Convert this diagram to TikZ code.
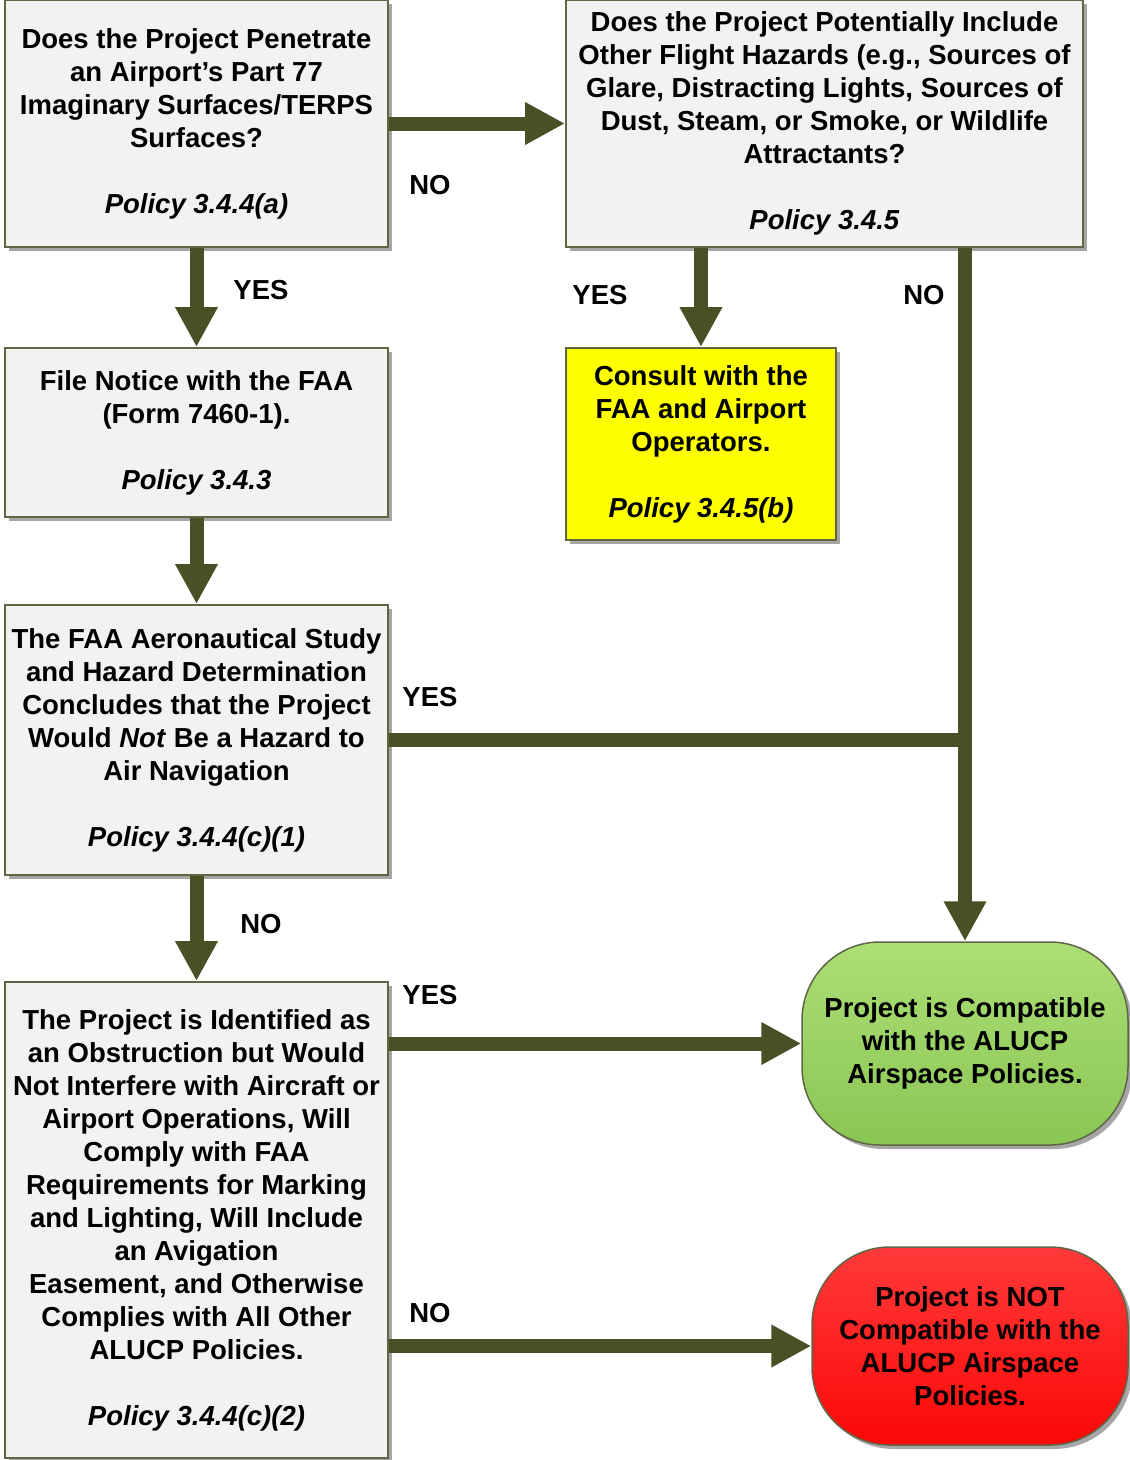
\documentclass[tikz,border=0pt]{standalone}
\usepackage{fontspec}
\setmainfont{Liberation Sans}
\usetikzlibrary{arrows.meta,shadows}
\definecolor{arrowc}{RGB}{74,80,38}
\definecolor{edgec}{RGB}{95,102,70}
\definecolor{boxfill}{RGB}{242,242,242}
\definecolor{yel}{RGB}{255,255,0}
\definecolor{greentop}{RGB}{172,222,118}
\definecolor{greenbot}{RGB}{138,198,84}
\definecolor{redtop}{RGB}{255,58,58}
\definecolor{redbot}{RGB}{252,8,8}
\tikzset{
  txt/.style={font=\fontsize{27.5}{33}\selectfont\bfseries, align=center, inner sep=0pt},
  box/.style={txt, draw=edgec, line width=2pt, fill=boxfill,
    drop shadow={shadow xshift=4pt, shadow yshift=-4pt, fill=black, opacity=0.35}},
  yelbox/.style={box, fill=yel},
  endbox/.style={txt, draw=edgec, line width=1.5pt, rounded corners=78pt,
    drop shadow={shadow xshift=4pt, shadow yshift=-4pt, fill=black, opacity=0.35}},
  flow/.style={draw=arrowc, line width=14pt, -{Triangle[width=40pt,length=40pt]}},
  flowline/.style={draw=arrowc, line width=14pt},
  lab/.style={txt}
}
\begin{document}
\begin{tikzpicture}[x=1pt,y=-1pt]
\useasboundingbox (0,0) rectangle (1130,1460);

\node[box, minimum width=383pt, minimum height=247pt] (b1) at (196.5,123.5)
 {Does the Project Penetrate\\an Airport’s Part 77\\Imaginary Surfaces/TERPS\\Surfaces?\\[33pt]\textit{Policy 3.4.4(a)}};

\node[box, minimum width=517pt, minimum height=247pt] (b2) at (824.5,123.5)
 {Does the Project Potentially Include\\Other Flight Hazards (e.g., Sources of\\Glare, Distracting Lights, Sources of\\Dust, Steam, or Smoke, or Wildlife\\Attractants?\\[33pt]\textit{Policy 3.4.5}};

\node[box, minimum width=383pt, minimum height=169pt] (b3) at (196.5,432.5)
 {File Notice with the FAA\\(Form 7460-1).\\[33pt]\textit{Policy 3.4.3}};

\node[yelbox, minimum width=270pt, minimum height=192pt] (y) at (701,444)
 {Consult with the\\FAA and Airport\\Operators.\\[33pt]\textit{Policy 3.4.5(b)}};

\node[box, minimum width=383pt, minimum height=270pt] (b4) at (196.5,740)
 {The FAA Aeronautical Study\\and Hazard Determination\\Concludes that the Project\\Would \textit{Not} Be a Hazard to\\Air Navigation\\[33pt]\textit{Policy 3.4.4(c)(1)}};

\node[box, minimum width=383pt, minimum height=476pt] (b5) at (196.5,1220)
 {The Project is Identified as\\an Obstruction but Would\\Not Interfere with Aircraft or\\Airport Operations, Will\\Comply with FAA\\Requirements for Marking\\and Lighting, Will Include\\an Avigation\\Easement, and Otherwise\\Complies with All Other\\ALUCP Policies.\\[33pt]\textit{Policy 3.4.4(c)(2)}};

\node[endbox, top color=greentop, bottom color=greenbot, minimum width=326pt, minimum height=203pt] (g) at (965,1043.5)
 {Project is Compatible\\with the ALUCP\\Airspace Policies.};

\node[endbox, top color=redtop, bottom color=redbot, minimum width=316pt, minimum height=198pt] (r) at (970,1346)
 {Project is NOT\\Compatible with the\\ALUCP Airspace\\Policies.};

% connectors
\draw[flow] (b1.east) -- (b2.west);
\draw[flow] (b1.south) -- (b3.north);
\draw[flow] (b3.south) -- (b4.north);
\draw[flow] (b4.south) -- (b5.north);
\draw[flow] (b2.south -| y.north) -- (y.north);
\draw[flow] (b2.south -| g.north) -- (g.north);
\draw[flowline] (b4.east) -- (b4.east -| g.north);
\draw[flow] (b5.east |- g.west) -- (g.west);
\draw[flow] (b5.east |- r.west) -- (r.west);

% labels
\node[lab] (l1) at (430,185) {NO};
\node[lab] (l2) at (261,290) {YES};
\node[lab] (l3) at (600,295) {YES};
\node[lab] (l4) at (924,295) {NO};
\node[lab] (l5) at (430,697) {YES};
\node[lab] (l6) at (261,924) {NO};
\node[lab] (l7) at (430,995) {YES};
\node[lab] (l8) at (430,1313) {NO};
\end{tikzpicture}
\end{document}
